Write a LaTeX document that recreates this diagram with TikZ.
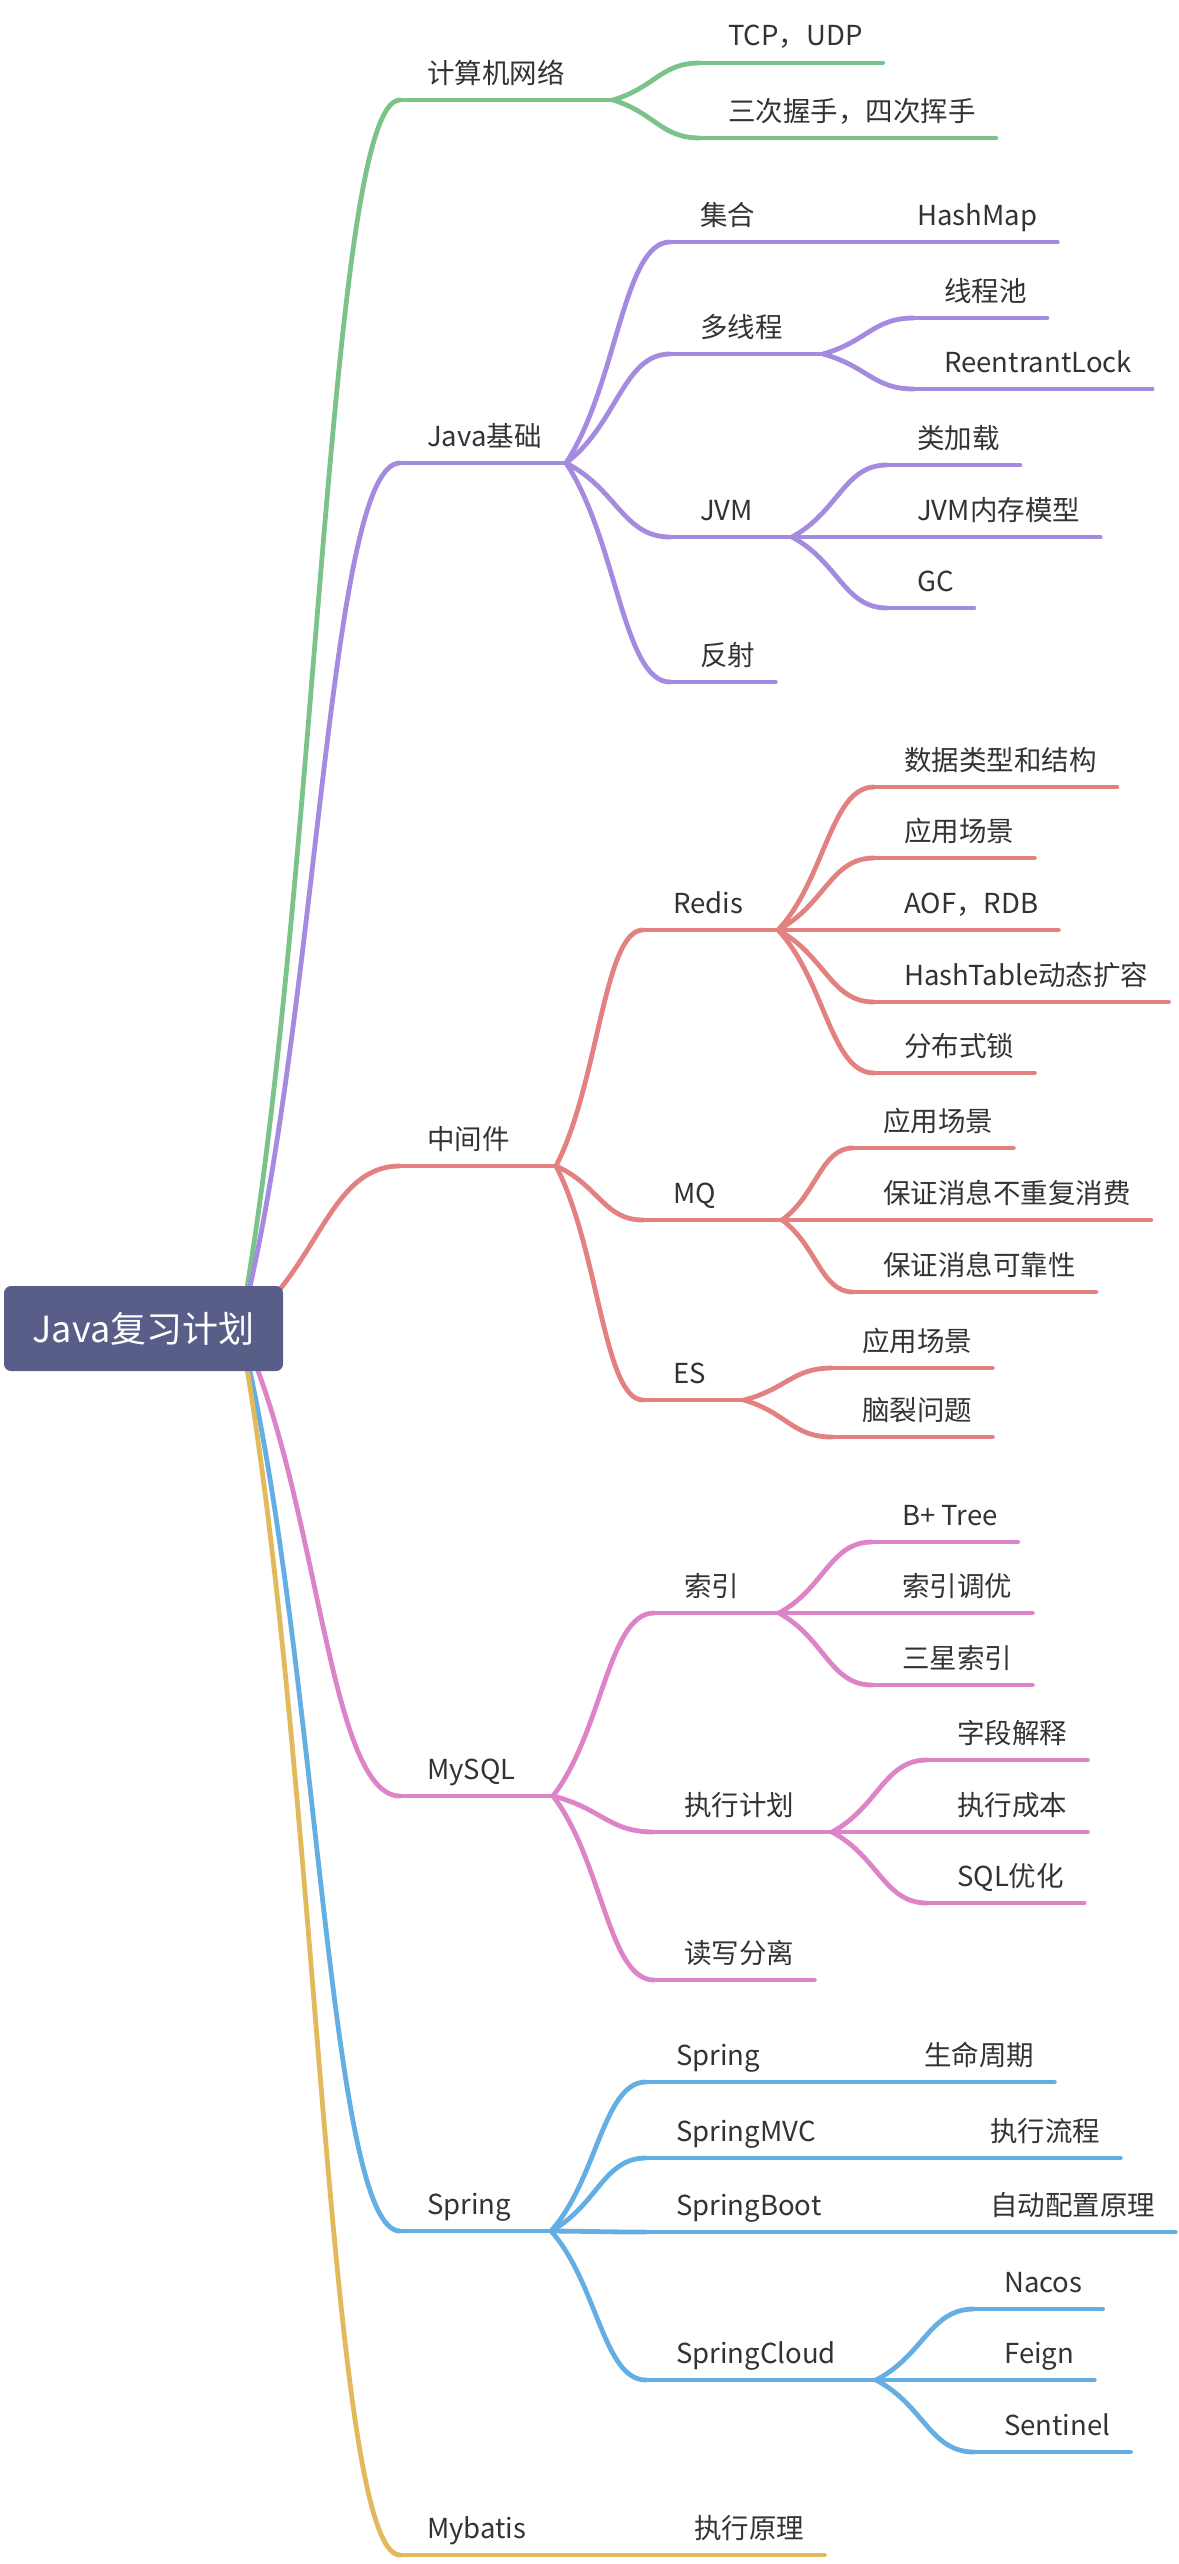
\documentclass[tikz,border=0pt]{standalone}
\usepackage{fontspec}
\setmainfont{Noto Sans CJK SC}
\usetikzlibrary{calc}
\definecolor{cgreen}{HTML}{7CC38A}
\definecolor{cpurple}{HTML}{A48BDF}
\definecolor{cred}{HTML}{E38080}
\definecolor{cpink}{HTML}{DC84C7}
\definecolor{cblue}{HTML}{65AEE3}
\definecolor{cyellow}{HTML}{E2BA5D}
\definecolor{croot}{HTML}{585E87}
\definecolor{ctext}{HTML}{333333}
\tikzset{
  br/.style={line width=4.8pt, line cap=round, draw=#1},
  lbl/.style={anchor=base west, inner sep=0pt, text=ctext, font=\fontsize{27.5}{32}\selectfont},
  rootbox/.style={fill=croot, rounded corners=7pt, minimum width=279pt, minimum height=85pt,
    inner sep=0pt, text=white, font=\fontsize{36}{40}\selectfont}
}
% leaf topic: name, colour, line start x, text x, line y, text
\newcommand\leafT[6]{%
  \coordinate (#1s) at (#3,#5);
  \node[lbl] (#1) at (#4,#5-17) {#6};
  \draw[br=#2] (#1s) -- ($(#1s -| #1.east)+(20,0)$);}
% parent topic: name, colour, line start x, text x, line y, split x, text
\newcommand\parT[7]{%
  \coordinate (#1s) at (#3,#5);
  \coordinate (#1e) at (#6,#5);
  \node[lbl] (#1) at (#4,#5-17) {#7};
  \draw[br=#2] (#1s) -- (#1e);}
% curved connector: colour, from, to
\newcommand\mmconn[3]{%
  \draw[br=#1] let \p1=(#2), \p2=(#3) in (\p1) .. controls
    ({\x1+0.49*(\x2-\x1)},{\y1+0.35*(\y2-\y1)}) and ({\x2-0.45*(\x2-\x1)},{\y2}) .. (\p2);}
\begin{document}
\begin{tikzpicture}[x=1pt,y=-1pt]
\useasboundingbox (0,0) rectangle (1178,2564);
\coordinate (rootO) at (240,1328);

% ---- level 1
\parT{net}{cgreen}{400}{427}{100}{613}{计算机网络}
\parT{jb}{cpurple}{400}{427}{463}{566}{Java基础}
\parT{mw}{cred}{400}{427}{1166}{556}{中间件}
\parT{my}{cpink}{400}{427}{1796}{553}{MySQL}
\parT{sp}{cblue}{400}{427}{2231}{551}{Spring}
\parT{mb}{cyellow}{400}{427}{2555}{600}{Mybatis}
\mmconn{cgreen}{rootO}{nets}
\mmconn{cpurple}{rootO}{jbs}
\mmconn{cred}{rootO}{mws}
\mmconn{cpink}{rootO}{mys}
\mmconn{cblue}{rootO}{sps}
\mmconn{cyellow}{rootO}{mbs}

% ---- 计算机网络
\leafT{tcp}{cgreen}{700}{728}{63}{TCP，UDP}
\leafT{hs}{cgreen}{700}{728}{138}{三次握手，四次挥手}
\mmconn{cgreen}{nete}{tcps}
\mmconn{cgreen}{nete}{hss}

% ---- Java基础
\parT{jh}{cpurple}{670}{700}{242}{790}{集合}
\leafT{hm}{cpurple}{887}{917}{242}{HashMap}
\parT{dxc}{cpurple}{670}{700}{354}{823}{多线程}
\leafT{tp}{cpurple}{914}{944}{318}{线程池}
\leafT{rl}{cpurple}{914}{944}{389}{ReentrantLock}
\parT{jvm}{cpurple}{670}{700}{537}{792}{JVM}
\leafT{cl}{cpurple}{887}{917}{465}{类加载}
\leafT{jmm}{cpurple}{887}{917}{537}{JVM内存模型}
\leafT{gcn}{cpurple}{887}{917}{608}{GC}
\leafT{fs}{cpurple}{670}{700}{682}{反射}
\mmconn{cpurple}{jbe}{jhs}
\mmconn{cpurple}{jbe}{dxcs}
\mmconn{cpurple}{jbe}{jvms}
\mmconn{cpurple}{jbe}{fss}
\mmconn{cpurple}{jhe}{hms}
\mmconn{cpurple}{dxce}{tps}
\mmconn{cpurple}{dxce}{rls}
\mmconn{cpurple}{jvme}{cls}
\mmconn{cpurple}{jvme}{jmms}
\mmconn{cpurple}{jvme}{gcns}

% ---- 中间件
\parT{rd}{cred}{643}{673}{930}{778}{Redis}
\leafT{ra}{cred}{874}{904}{787}{数据类型和结构}
\leafT{rb}{cred}{874}{904}{858}{应用场景}
\leafT{rc}{cred}{874}{904}{930}{AOF，RDB}
\leafT{rdd}{cred}{874}{904}{1002}{HashTable动态扩容}
\leafT{re}{cred}{874}{904}{1073}{分布式锁}
\parT{mq}{cred}{643}{673}{1220}{782}{MQ}
\leafT{qa}{cred}{853}{883}{1148}{应用场景}
\leafT{qb}{cred}{853}{883}{1220}{保证消息不重复消费}
\leafT{qc}{cred}{853}{883}{1292}{保证消息可靠性}
\parT{es}{cred}{643}{673}{1400}{744}{ES}
\leafT{ea}{cred}{832}{862}{1368}{应用场景}
\leafT{eb}{cred}{832}{862}{1437}{脑裂问题}
\mmconn{cred}{mwe}{rds}
\mmconn{cred}{mwe}{mqs}
\mmconn{cred}{mwe}{ess}
\mmconn{cred}{rde}{ras}
\mmconn{cred}{rde}{rbs}
\mmconn{cred}{rde}{rcs}
\mmconn{cred}{rde}{rdds}
\mmconn{cred}{rde}{res}
\mmconn{cred}{mqe}{qas}
\mmconn{cred}{mqe}{qbs}
\mmconn{cred}{mqe}{qcs}
\mmconn{cred}{ese}{eas}
\mmconn{cred}{ese}{ebs}

% ---- MySQL
\parT{sy}{cpink}{654}{684}{1613}{779}{索引}
\leafT{ia}{cpink}{872}{902}{1542}{B+ Tree}
\leafT{ib}{cpink}{872}{902}{1613}{索引调优}
\leafT{ic}{cpink}{872}{902}{1685}{三星索引}
\parT{zj}{cpink}{654}{684}{1832}{832}{执行计划}
\leafT{za}{cpink}{927}{957}{1760}{字段解释}
\leafT{zb}{cpink}{927}{957}{1832}{执行成本}
\leafT{zc}{cpink}{927}{957}{1903}{SQL优化}
\leafT{rw}{cpink}{654}{684}{1980}{读写分离}
\mmconn{cpink}{mye}{sys}
\mmconn{cpink}{mye}{zjs}
\mmconn{cpink}{mye}{rws}
\mmconn{cpink}{sye}{ias}
\mmconn{cpink}{sye}{ibs}
\mmconn{cpink}{sye}{ics}
\mmconn{cpink}{zje}{zas}
\mmconn{cpink}{zje}{zbs}
\mmconn{cpink}{zje}{zcs}

% ---- Spring
\parT{sa}{cblue}{646}{676}{2082}{790}{Spring}
\leafT{saa}{cblue}{894}{924}{2082}{生命周期}
\parT{sb}{cblue}{646}{676}{2158}{860}{SpringMVC}
\leafT{sbb}{cblue}{960}{990}{2158}{执行流程}
\parT{sc}{cblue}{646}{676}{2232}{860}{SpringBoot}
\leafT{scc}{cblue}{960}{990}{2232}{自动配置原理}
\parT{sd}{cblue}{646}{676}{2380}{876}{SpringCloud}
\leafT{da}{cblue}{974}{1004}{2309}{Nacos}
\leafT{db}{cblue}{974}{1004}{2380}{Feign}
\leafT{dc}{cblue}{974}{1004}{2452}{Sentinel}
\mmconn{cblue}{spe}{sas}
\mmconn{cblue}{spe}{sbs}
\mmconn{cblue}{spe}{scs}
\mmconn{cblue}{spe}{sds}
\mmconn{cblue}{sae}{saas}
\mmconn{cblue}{sbe}{sbbs}
\mmconn{cblue}{sce}{sccs}
\mmconn{cblue}{sde}{das}
\mmconn{cblue}{sde}{dbs}
\mmconn{cblue}{sde}{dcs}

% ---- Mybatis
\leafT{mba}{cyellow}{664}{694}{2555}{执行原理}
\mmconn{cyellow}{mbe}{mbas}

% ---- root
\node[rootbox] (root) at (143.5,1328.5) {Java复习计划};
\end{tikzpicture}
\end{document}
